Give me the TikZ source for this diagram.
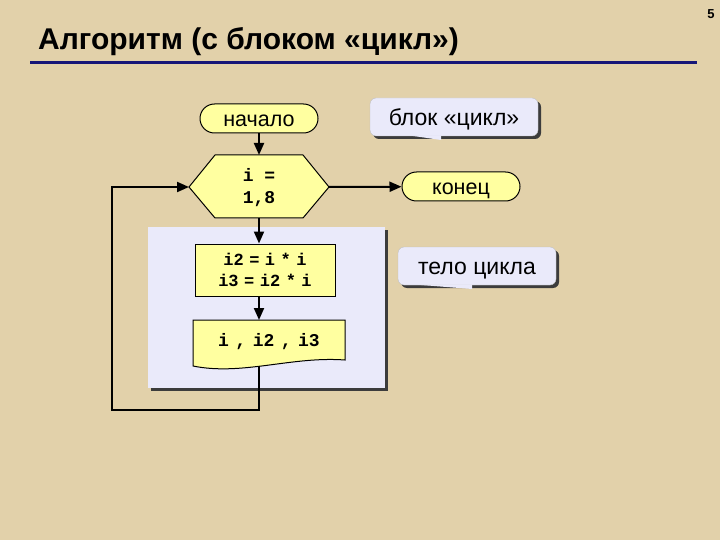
\documentclass[tikz,border=0pt]{standalone}
\usepackage{fontspec}
\setmainfont{Liberation Sans}
\newfontfamily\codefont{Liberation Mono}
\usetikzlibrary{arrows.meta,shadows}

\definecolor{parchment}{RGB}{226,209,170}
\definecolor{boxyellow}{RGB}{255,255,160}
\definecolor{bodyblue}{RGB}{234,234,250}
\definecolor{titleline}{RGB}{22,22,120}
\definecolor{shadowgray}{RGB}{60,60,60}

% narrow gap used inside code lines
\newcommand{\gap}{\hspace{5.5pt}}

\tikzset{
  flow/.style={draw=black, line width=1pt, fill=boxyellow},
  link/.style={line width=2pt, -{Triangle[length=12pt,width=10pt]}},
  term/.style={flow, rounded corners=14.5pt, minimum width=118pt, minimum height=29pt,
    inner sep=0pt, text height=17pt, text depth=0pt, font=\fontsize{21.5}{24}\selectfont},
  code/.style={font=\codefont\bfseries\fontsize{17}{21}\selectfont, align=center, inner sep=0pt},
  callout/.style={fill=bodyblue, draw=gray!50, rounded corners=6pt, inner sep=0pt,
    text height=17pt, text depth=0pt,
    general shadow={fill=shadowgray, shadow xshift=3pt, shadow yshift=-3pt},
    font=\fontsize{23}{26}\selectfont}
}

\begin{document}
\begin{tikzpicture}[x=1pt, y=-1pt]

    % Page and background
    \fill[parchment] (0,0) rectangle (720,540);
    \useasboundingbox (0,0) rectangle (720,540);

    % Title, page number and rule
    \node[anchor=base west, inner sep=0pt, font=\bfseries\fontsize{30}{32}\selectfont] (title) at (38,50) {Алгоритм (с блоком «цикл»)};
    \node[inner sep=0pt, font=\bfseries\fontsize{13}{14}\selectfont] (pagenum) at (711,14) {5};
    \draw[titleline, line width=3pt] (30,63) -- (697,63);

    % Loop body panel
    \fill[shadowgray] (151,230) rectangle (388,391);
    \fill[bodyblue] (148,227) rectangle (385,388);

    % Start and end
    \node[term] (start) at (259,118.5) {начало};
    \node[term] (stop) at (461,186.5) {конец};

    % Loop header (hexagon)
    \coordinate (cycW) at (189,187);
    \coordinate (cycE) at (329,187);
    \coordinate (cycN) at (259,155);
    \coordinate (cycS) at (259,218);
    \draw[flow] (cycW) -- (215,155) -- (303,155) -- (cycE) -- (303,218) -- (215,218) -- cycle;
    \node[code, font=\codefont\bfseries\fontsize{18}{22}\selectfont] (cyc) at (259,188) {i =\\1,8};

    % Body: process block
    \node[flow, minimum width=140pt, minimum height=52pt, code] (proc) at (265,270) {i2\gap=\gap i\gap*\gap i\\i3\gap=\gap i2\gap*\gap i};

    % Body: output block (document shape)
    \coordinate (outN) at (259,320);
    \coordinate (outS) at (259,366);
    \draw[flow] (193,320) -- (345,320) -- (345,360)
      .. controls (292,356) and (242,376) .. (193,366) -- cycle;
    \node[code, font=\codefont\bfseries\fontsize{18}{20}\selectfont] (out) at (269,342) {i\hspace{6.5pt},\hspace{6.5pt}i2\hspace{6.5pt},\hspace{6.5pt}i3};

    % Connectors
    \draw[link] (start) -- (cycN);
    \draw[link] (cycE) -- (stop);
    \draw[link] (cycS) -- (cycS |- proc.north);
    \draw[link] (proc.south -| cycS) -- (outN);
    \coordinate (loopBL) at (112,410);
    \draw[link] (outS) |- (loopBL) |- (cycW);

    % Callouts
    \node[callout, minimum width=168pt, minimum height=38pt] (blocknote) at (454,117) {блок «цикл»};
    \fill[bodyblue] (410,135.5) -- (441,140) -- (441,135.5) -- cycle;
    \node[callout, minimum width=158pt, minimum height=38pt] (bodynote) at (477,266) {тело цикла};
    \fill[bodyblue] (415,284.5) -- (472,289) -- (472,284.5) -- cycle;

\end{tikzpicture}
\end{document}
